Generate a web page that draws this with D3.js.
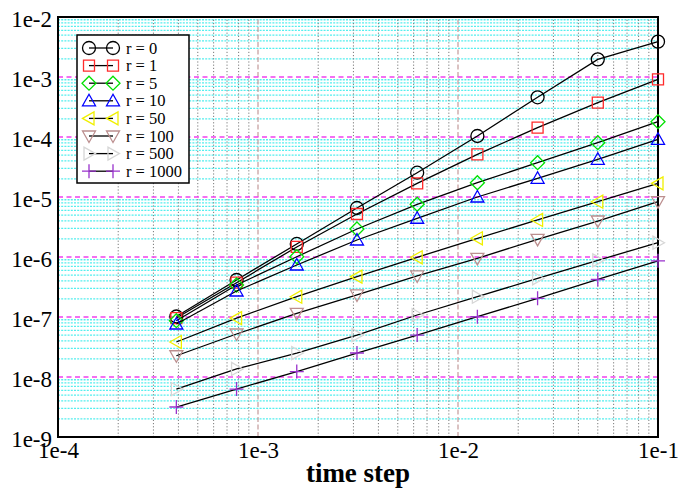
<!DOCTYPE html>
<html>
<head>
<meta charset="utf-8">
<script src="https://cdn.jsdelivr.net/npm/d3@7"></script>
<style>
  body { margin: 0; background: #fff; }
  svg { display: block; }
</style>
</head>
<body>
<svg id="chart" width="678" height="488"></svg>
<script>
// Time steps (halving from 0.1)
const timeSteps = [0.000390625, 0.00078125, 0.0015625, 0.003125, 0.00625, 0.0125, 0.025, 0.05, 0.1];

// Error per time step for each r
const errR0    = [1.02e-7, 4.14e-7, 1.65e-6, 6.56e-6, 2.54e-5, 1.04e-4, 4.59e-4, 1.97e-3, 3.88e-3];
const errR1    = [9.6e-8, 3.73e-7, 1.47e-6, 5.21e-6, 1.69e-5, 5.15e-5, 1.43e-4, 3.73e-4, 9.15e-4];
const errR5    = [8.68e-8, 3.41e-7, 1.01e-6, 2.93e-6, 7.56e-6, 1.73e-5, 3.73e-5, 8.04e-5, 1.80e-4];
const errR10   = [7.64e-8, 2.71e-7, 7.36e-7, 1.92e-6, 4.42e-6, 1.0e-5, 2.05e-5, 4.25e-5, 9.16e-5];
const errR50   = [3.83e-8, 9.6e-8, 2.18e-7, 4.7e-7, 9.9e-7, 2.05e-6, 4.14e-6, 8.35e-6, 1.69e-5];
const errR100  = [2.26e-8, 5.21e-8, 1.15e-7, 2.33e-7, 4.83e-7, 9.5e-7, 1.97e-6, 3.98e-6, 8.35e-6];
const errR500  = [6.3e-9, 1.36e-8, 2.51e-8, 5.0e-8, 1.08e-7, 2.18e-7, 4.42e-7, 8.8e-7, 1.73e-6];
const errR1000 = [3.16e-9, 6.3e-9, 1.23e-8, 2.51e-8, 5.0e-8, 1.01e-7, 2.05e-7, 4.22e-7, 8.64e-7];

const seriesLabels = ["r = 0", "r = 1", "r = 5", "r = 10", "r = 50", "r = 100", "r = 500", "r = 1000"];
const seriesValues = [errR0, errR1, errR5, errR10, errR50, errR100, errR500, errR1000];
const seriesColors = ["#000000", "#ff2a2a", "#00e000", "#0000ff", "#f0f000", "#bc8f8f", "#d6d6d6", "#9932cc"];
const seriesSymbols = ["circle", "square", "diamond", "triUp", "triLeft", "triDown", "triRight", "plus"];

const xTickValues = [1e-4, 1e-3, 1e-2, 1e-1];
const xTickLabels = ["1e-4", "1e-3", "1e-2", "1e-1"];
const yTickValues = [1e-9, 1e-8, 1e-7, 1e-6, 1e-5, 1e-4, 1e-3, 1e-2];
const yTickLabels = ["1e-9", "1e-8", "1e-7", "1e-6", "1e-5", "1e-4", "1e-3", "1e-2"];
const xTitle = "time step";

const W = 678, H = 488;
const margin = { left: 58, right: 20, top: 17, bottom: 51 };
const x = d3.scaleLog().domain([1e-4, 1e-1]).range([margin.left, W - margin.right]);
const y = d3.scaleLog().domain([1e-9, 1e-2]).range([H - margin.bottom, margin.top]);

const svg = d3.select("#chart");
const serif = "'Liberation Serif', 'Times New Roman', Times, serif";

// ---- grid ----
const grid = svg.append("g");
const minorX = [], minorY = [];
for (let e = -4; e < -1; e++) for (let k = 2; k <= 9; k++) minorX.push(k * Math.pow(10, e));
for (let e = -9; e < -2; e++) for (let k = 2; k <= 9; k++) minorY.push(k * Math.pow(10, e));

grid.selectAll(".my").data(minorY).join("line")
  .attr("x1", x.range()[0]).attr("x2", x.range()[1])
  .attr("y1", d => y(d)).attr("y2", d => y(d))
  .attr("stroke", "#55eeee").attr("stroke-width", 1.3).attr("stroke-dasharray", "2,1.2");

grid.selectAll(".mx").data(minorX).join("line")
  .attr("y1", y.range()[0]).attr("y2", y.range()[1])
  .attr("x1", d => x(d)).attr("x2", d => x(d))
  .attr("stroke", "#7a7a7a").attr("stroke-width", 1).attr("stroke-dasharray", "1.2,2");

grid.selectAll(".Mx").data(xTickValues.slice(1, -1)).join("line")
  .attr("y1", y.range()[0]).attr("y2", y.range()[1])
  .attr("x1", d => x(d)).attr("x2", d => x(d))
  .attr("stroke", "#c49a9a").attr("stroke-width", 1.2).attr("stroke-dasharray", "5,2.5");

grid.selectAll(".My").data(yTickValues).join("line")
  .attr("x1", x.range()[0]).attr("x2", x.range()[1])
  .attr("y1", d => y(d)).attr("y2", d => y(d))
  .attr("stroke", "#f040f0").attr("stroke-width", 1.5).attr("stroke-dasharray", "5,3.5");

// ---- border ----
svg.append("rect")
  .attr("x", x.range()[0]).attr("y", y.range()[1])
  .attr("width", x.range()[1] - x.range()[0]).attr("height", y.range()[0] - y.range()[1])
  .attr("fill", "none").attr("stroke", "#000").attr("stroke-width", 2);

// ---- axes (labels only, gnuplot style) ----
const yAxis = d3.axisLeft(y).tickValues(yTickValues)
  .tickFormat((d, i) => yTickLabels[i]).tickSize(0).tickPadding(6);
const gy = svg.append("g").attr("transform", `translate(${margin.left},0)`).call(yAxis);
gy.select(".domain").remove();
gy.selectAll("text").attr("font-family", serif).attr("font-size", 23).attr("fill", "#000")
  .attr("dy", "0.42em");

const xAxis = d3.axisBottom(x).tickValues(xTickValues)
  .tickFormat((d, i) => xTickLabels[i]).tickSize(0).tickPadding(5);
const gx = svg.append("g").attr("transform", `translate(0,${H - margin.bottom})`).call(xAxis);
gx.select(".domain").remove();
gx.selectAll("text").attr("font-family", serif).attr("font-size", 23).attr("fill", "#000")
  .attr("dy", "0.71em");

svg.append("text")
  .attr("x", (x.range()[0] + x.range()[1]) / 2).attr("y", 482)
  .attr("text-anchor", "middle")
  .attr("font-family", serif).attr("font-weight", "bold").attr("font-size", 27)
  .text(xTitle);

// ---- symbols ----
function symbolPath(kind) {
  switch (kind) {
    case "circle": return "M6.5,0A6.5,6.5 0 1,1 -6.5,0A6.5,6.5 0 1,1 6.5,0Z";
    case "square": return "M-5.5,-5.5H5.5V5.5H-5.5Z";
    case "diamond": return "M0,-7L7,0L0,7L-7,0Z";
    case "triUp": return "M0,-6.5L6.5,5L-6.5,5Z";
    case "triDown": return "M0,6.5L6.5,-5L-6.5,-5Z";
    case "triLeft": return "M-6.5,0L5,-6.5L5,6.5Z";
    case "triRight": return "M6.5,0L-5,-6.5L-5,6.5Z";
    case "plus": return "M-7,0H7M0,-7V7";
  }
}

const line = d3.line().x(d => x(d[0])).y(d => y(d[1]));
const plot = svg.append("g");

seriesValues.forEach((vals, si) => {
  const pts = timeSteps.map((t, i) => [t, vals[i]]);
  plot.append("path").datum(pts).attr("d", line)
    .attr("fill", "none").attr("stroke", "#000").attr("stroke-width", 1.3);
  plot.selectAll(null).data(pts).join("path")
    .attr("transform", d => `translate(${x(d[0])},${y(d[1])})`)
    .attr("d", symbolPath(seriesSymbols[si]))
    .attr("fill", "none").attr("stroke", seriesColors[si]).attr("stroke-width", 1.3);
});

// ---- legend ----
const leg = svg.append("g");
leg.append("rect").attr("x", 77).attr("y", 35).attr("width", 112).attr("height", 148)
  .attr("fill", "#fff").attr("stroke", "#000").attr("stroke-width", 1.5);
seriesLabels.forEach((lab, i) => {
  const ly = 48 + i * 17.6;
  leg.append("line").attr("x1", 89).attr("x2", 113).attr("y1", ly).attr("y2", ly)
    .attr("stroke", "#000").attr("stroke-width", 1.3);
  [89, 113].forEach(mx => {
    leg.append("path").attr("transform", `translate(${mx},${ly})`)
      .attr("d", symbolPath(seriesSymbols[i]))
      .attr("fill", "none").attr("stroke", seriesColors[i]).attr("stroke-width", 1.3);
  });
  leg.append("text").attr("x", 126).attr("y", ly + 5.5)
    .attr("font-family", serif).attr("font-size", 16.5).text(lab);
});
</script>
</body>
</html>
